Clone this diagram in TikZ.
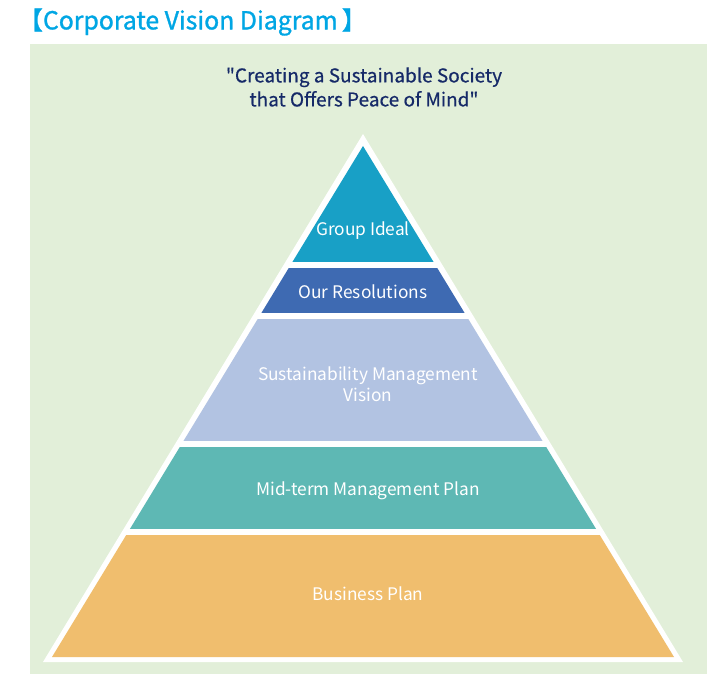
\documentclass[tikz,border=0pt]{standalone}
\usepackage{fontspec}
\setmainfont{Noto Sans CJK JP}
\newfontfamily\titlefont{Noto Sans CJK JP}[FakeBold=1.2]
\newfontfamily\quotefont{Noto Sans CJK JP}[FakeBold=0.5]
\definecolor{bggreen}{RGB}{226,239,217}
\definecolor{titleblue}{RGB}{0,166,228}
\definecolor{quotenavy}{RGB}{22,42,104}
\definecolor{idealcol}{RGB}{24,160,198}
\definecolor{resolcol}{RGB}{62,106,178}
\definecolor{visioncol}{RGB}{178,195,226}
\definecolor{plancol}{RGB}{94,184,180}
\definecolor{bizcol}{RGB}{240,190,110}
\begin{document}
\begin{tikzpicture}[x=1pt,y=-1pt,
  bandtext/.style={text=white,align=center,inner sep=0pt,
    font=\fontsize{17.3}{21}\selectfont}]
  \useasboundingbox (0,0) rectangle (707,674);
  \fill[bggreen] (30,44) rectangle (707,674);
  % white pyramid outline
  \fill[white] (363,134) -- (683,662) -- (43,662) -- cycle;
  % coloured bands
  \begin{scope}
    \clip (363,146) -- (674,657) -- (52,657) -- cycle;
    \fill[idealcol] (0,140) rectangle (707,262);
    \fill[resolcol] (0,268) rectangle (707,313);
    \fill[visioncol] (0,319) rectangle (707,441);
    \fill[plancol] (0,447) rectangle (707,529);
    \fill[bizcol] (0,535) rectangle (707,660);
  \end{scope}
  \node[text=titleblue,anchor=west,inner sep=0pt,font=\titlefont\fontsize{24.8}{28}\selectfont]
    (title) at (18,22) {【Corporate Vision Diagram\,】};
  \node[text=quotenavy,align=center,inner sep=0pt,font=\quotefont\fontsize{19}{24}\selectfont]
    (quote) at (364,87) {"Creating a Sustainable Society\\that Offers Peace of Mind"};
  \node[bandtext] (ideal) at (363,231) {Group Ideal};
  \node[bandtext] (resol) at (363,292) {Our Resolutions};
  \node[bandtext] (vision) at (368,384) {Sustainability Management\\Vision};
  \node[bandtext] (plan) at (368,491) {Mid-term Management Plan};
  \node[bandtext] (biz) at (368,594) {Business Plan};
\end{tikzpicture}
\end{document}
